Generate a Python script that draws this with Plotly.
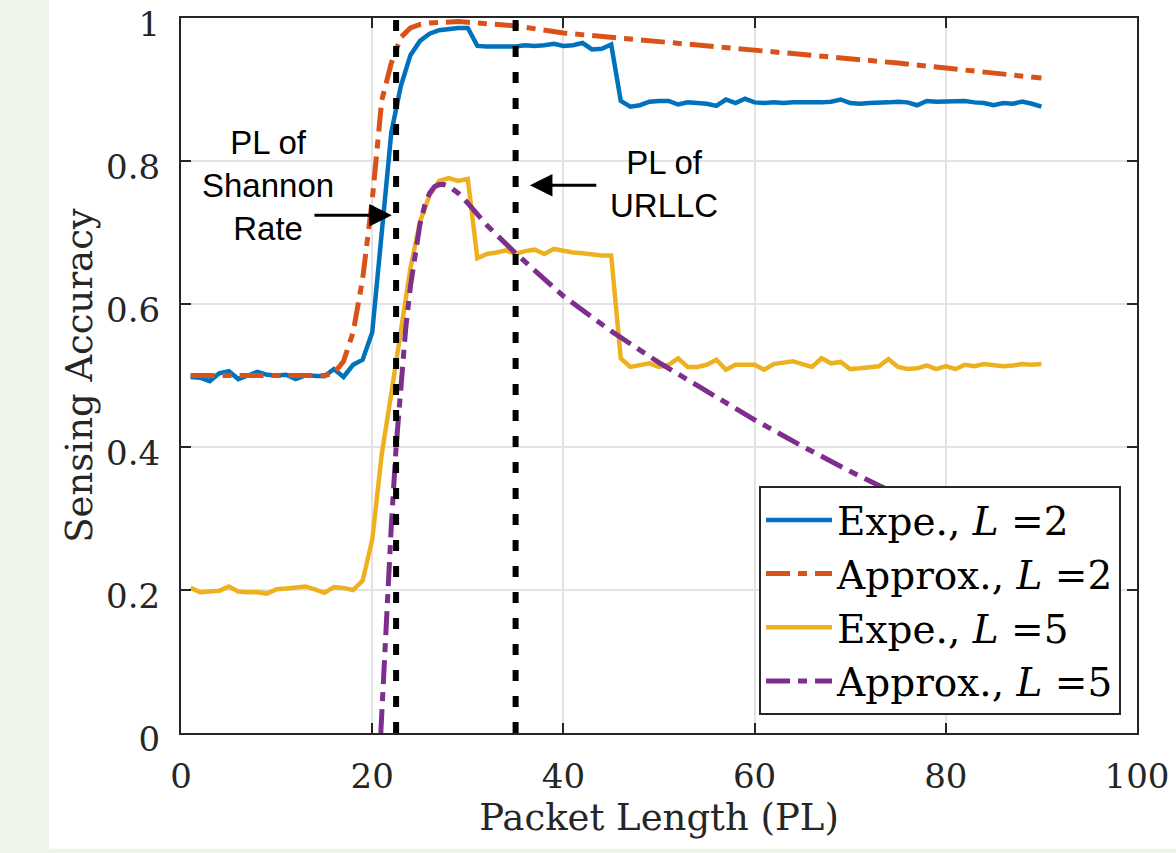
import plotly.graph_objects as go

# ---------------- data ----------------
pl = list(range(1, 91))

expe_L2 = [0.498, 0.497, 0.492, 0.503, 0.506, 0.495, 0.500, 0.505, 0.501, 0.500,
           0.501, 0.495, 0.500, 0.500, 0.499, 0.509, 0.498, 0.515, 0.522, 0.560,
           0.700, 0.840, 0.905, 0.948, 0.968, 0.978, 0.983, 0.985, 0.986, 0.986,
           0.961, 0.960, 0.960, 0.961, 0.960, 0.962, 0.961, 0.962, 0.964, 0.961,
           0.962, 0.965, 0.956, 0.957, 0.963, 0.884, 0.876, 0.878, 0.883, 0.884,
           0.884, 0.879, 0.882, 0.881, 0.880, 0.877, 0.886, 0.881, 0.887, 0.882,
           0.881, 0.882, 0.881, 0.882, 0.882, 0.881, 0.882, 0.883, 0.886, 0.881,
           0.880, 0.881, 0.881, 0.882, 0.883, 0.882, 0.878, 0.884, 0.883, 0.883,
           0.883, 0.884, 0.882, 0.881, 0.878, 0.881, 0.880, 0.883, 0.880, 0.876]

expe_L5 = [0.203, 0.197, 0.198, 0.199, 0.205, 0.198, 0.197, 0.197, 0.195, 0.201,
           0.202, 0.203, 0.205, 0.201, 0.196, 0.204, 0.203, 0.200, 0.213, 0.270,
           0.390, 0.475, 0.560, 0.650, 0.715, 0.752, 0.772, 0.776, 0.772, 0.775,
           0.664, 0.670, 0.672, 0.675, 0.670, 0.674, 0.676, 0.670, 0.677, 0.674,
           0.672, 0.671, 0.669, 0.668, 0.668, 0.524, 0.512, 0.514, 0.517, 0.512,
           0.515, 0.524, 0.512, 0.512, 0.515, 0.522, 0.508, 0.515, 0.515, 0.515,
           0.508, 0.516, 0.518, 0.520, 0.516, 0.512, 0.524, 0.517, 0.519, 0.509,
           0.510, 0.512, 0.513, 0.523, 0.512, 0.509, 0.510, 0.514, 0.509, 0.513,
           0.509, 0.515, 0.513, 0.516, 0.514, 0.513, 0.514, 0.516, 0.515, 0.516]

approx_L2_x = [1, 5, 10, 15, 16, 17, 18, 19, 20, 21, 22, 23, 24, 25, 26, 27, 28,
               29, 30, 35, 40, 45, 50, 55, 60, 65, 70, 75, 80, 85, 90]
approx_L2 = [0.500, 0.500, 0.500, 0.500, 0.503, 0.520, 0.560, 0.635, 0.745, 0.885,
             0.937, 0.973, 0.986, 0.991, 0.993, 0.994, 0.995, 0.995, 0.994, 0.989,
             0.979, 0.973, 0.967, 0.962, 0.956, 0.950, 0.943, 0.937, 0.930, 0.923,
             0.916]

approx_L5_x = [20.9, 21.5, 22, 22.5, 23, 23.5, 24, 24.5, 25, 25.5, 26, 26.5, 27,
               27.5, 28, 29, 30, 32, 35, 40, 45, 50, 55, 60, 65, 70, 75, 80, 85, 90]
approx_L5 = [0.000, 0.170, 0.290, 0.400, 0.490, 0.565, 0.625, 0.673, 0.712, 0.738,
             0.755, 0.764, 0.767, 0.767, 0.765, 0.755, 0.741, 0.710, 0.671, 0.611,
             0.562, 0.518, 0.477, 0.438, 0.401, 0.366, 0.333, 0.302, 0.272, 0.244]

pl_shannon = 22.5
pl_urllc = 35

x_ticks = [0, 20, 40, 60, 80, 100]
y_ticks = [0, 0.2, 0.4, 0.6, 0.8, 1]
y_tick_text = ["0", "0.2", "0.4", "0.6", "0.8", "1"]

series_names = ["Expe., <i>L</i> =2", "Approx., <i>L</i> =2",
                "Expe., <i>L</i> =5", "Approx., <i>L</i> =5"]

# ---------------- style ----------------
C_BLUE = "#0072BD"
C_ORANGE = "#D95319"
C_YELLOW = "#EDB120"
C_PURPLE = "#7E2F8E"
INK = "#262626"
GRID = "#e3e3e3"
SERIF = "DejaVu Serif"
SANS = "Liberation Sans"
DASHDOT = "24px,8px,9px,8px"

fig = go.Figure()
fig.add_trace(go.Scatter(x=pl, y=expe_L2, mode="lines", name=series_names[0],
                         line=dict(color=C_BLUE, width=4.5)))
fig.add_trace(go.Scatter(x=approx_L2_x, y=approx_L2, mode="lines", name=series_names[1],
                         line=dict(color=C_ORANGE, width=5, dash=DASHDOT)))
fig.add_trace(go.Scatter(x=pl, y=expe_L5, mode="lines", name=series_names[2],
                         line=dict(color=C_YELLOW, width=4.5)))
fig.add_trace(go.Scatter(x=approx_L5_x, y=approx_L5, mode="lines", name=series_names[3],
                         line=dict(color=C_PURPLE, width=5, dash=DASHDOT)))

for xv in (pl_shannon, pl_urllc):
    fig.add_shape(type="line", xref="x", yref="y", x0=xv, x1=xv, y0=0, y1=1,
                  line=dict(color="black", width=6, dash="11px,15px"), layer="above")

# background strips (green page area around white figure)
fig.add_shape(type="rect", xref="paper", yref="paper", x0=-0.20, x1=-0.1381,
              y0=-0.18, y1=1.04, fillcolor="#edf4ea", line=dict(width=0), layer="below")
fig.add_shape(type="rect", xref="paper", yref="paper", x0=-0.20, x1=1.05,
              y0=-0.18, y1=-0.162, fillcolor="#edf4ea", line=dict(width=0), layer="below")

# annotations
fig.add_annotation(x=9.1, y=0.766, xref="x", yref="y", text="PL of<br>Shannon<br>Rate",
                   showarrow=False, font=dict(family=SANS, size=33, color="black"),
                   align="center", xanchor="center", yanchor="middle")
fig.add_annotation(x=22.05, y=0.724, xref="x", yref="y", ax=13.8, ay=0.724,
                   axref="x", ayref="y", text="", showarrow=True, arrowhead=2,
                   arrowsize=1.5, arrowwidth=3, arrowcolor="black", standoff=0)
fig.add_annotation(x=50.5, y=0.768, xref="x", yref="y", text="PL of<br>URLLC",
                   showarrow=False, font=dict(family=SANS, size=33, color="black"),
                   align="center", xanchor="center", yanchor="middle")
fig.add_annotation(x=36.5, y=0.766, xref="x", yref="y", ax=43.6, ay=0.766,
                   axref="x", ayref="y", text="", showarrow=True, arrowhead=2,
                   arrowsize=1.5, arrowwidth=3, arrowcolor="black", standoff=0)

axis_common = dict(showline=True, linecolor=INK, linewidth=2, mirror="allticks",
                   ticks="inside", ticklen=10, tickwidth=2, tickcolor=INK,
                   showgrid=True, gridcolor=GRID, gridwidth=1.5, zeroline=False,
                   ticklabeloverflow="allow", automargin=False,
                   tickfont=dict(family=SERIF, size=34, color=INK))

fig.update_xaxes(range=[0, 100], tickvals=x_ticks, ticklabelstandoff=12,
                 title=dict(text="Packet Length (PL)", standoff=8,
                            font=dict(family=SERIF, size=37, color=INK)),
                 **axis_common)
fig.update_yaxes(range=[0, 1], tickvals=y_ticks, ticktext=y_tick_text,
                 ticklabelstandoff=12, ticklabelshift=6,
                 title=dict(text="Sensing Accuracy", standoff=2,
                            font=dict(family=SERIF, size=37, color=INK)),
                 **axis_common)

fig.update_layout(
    width=1176, height=853,
    margin=dict(l=181, r=39, t=18, b=120, autoexpand=False),
    paper_bgcolor="white", plot_bgcolor="white",
    showlegend=True,
    legend=dict(x=0.9833, y=0.0251, xanchor="right", yanchor="bottom",
                bgcolor="white", bordercolor=INK, borderwidth=2,
                font=dict(family=SERIF, size=39, color="black"),
                itemwidth=66, tracegroupgap=0),
)

fig.write_html("out.html")
